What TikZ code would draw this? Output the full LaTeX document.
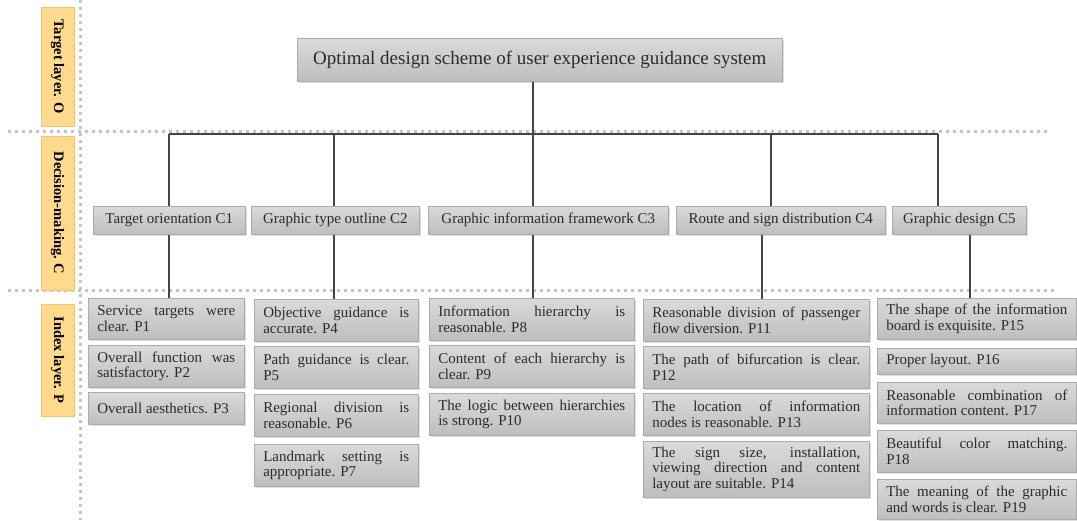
\documentclass[tikz,border=0pt]{standalone}
\usepackage{fontspec}
\setmainfont{Liberation Serif}
\usepackage{xcolor}
\usepackage{tikz}
\usetikzlibrary{calc,positioning,shadows}
\definecolor{UXBoxTop}{HTML}{DADADA}
\definecolor{UXBoxBottom}{HTML}{BEBEBE}
\definecolor{UXBoxLine}{HTML}{ABABAB}
\definecolor{UXText}{HTML}{2B2B2B}
\definecolor{UXLayer}{HTML}{FFD98E}
\definecolor{UXLayerLine}{HTML}{F2C66C}
\definecolor{UXDots}{HTML}{C4C4C4}
\definecolor{UXLink}{HTML}{454545}
\tolerance=10000
\hbadness=10000
\hyphenpenalty=10000

\tikzset{
  uxbox/.style={rectangle, anchor=north west, top color=UXBoxTop, bottom color=UXBoxBottom,
    draw=UXBoxLine, line width=0.6pt, text=UXText, inner xsep=9pt, inner ysep=2pt,
    drop shadow={shadow xshift=1.2pt, shadow yshift=-1.2pt, opacity=0.25}},
  cbox/.style={uxbox, align=center, minimum height=28pt, font=\fontsize{15}{16}\selectfont},
  pbox/.style={uxbox, text width=#1, align=justify, font=\fontsize{15}{15.6}\selectfont},
  layerbox/.style={rectangle, fill=UXLayer, draw=UXLayerLine, line width=0.5pt, rotate=-90,
    minimum height=33pt, inner sep=0pt, font=\bfseries\fontsize{14.5}{16}\selectfont},
  dots/.style={UXDots, line width=3pt, dash pattern=on 3pt off 4pt},
  link/.style={UXLink, line width=1.4pt}
}

\begin{document}
\begin{tikzpicture}[x=1pt, y=-1pt]
  \useasboundingbox (0,0) rectangle (1077,520);

  \draw[dots] (80,0) -- (80,520);
  \draw[dots] (8,131) -- (1048,131);
  \draw[dots] (8,290) -- (1058,290);

  \node[layerbox, minimum width=119pt] (Lo) at (57.5,66.5) {Target layer. O};
  \node[layerbox, minimum width=154pt] (Lc) at (57.5,213) {Decision-making. C};
  \node[layerbox, minimum width=112pt] (Lp) at (57.5,360) {Index layer. P};

  \node[uxbox, minimum width=485pt, minimum height=43pt, font=\fontsize{19}{21}\selectfont]
    (top) at (297,38) {Optimal design scheme of user experience guidance system};

  \node[cbox, minimum width=152pt] (C1) at (93,206) {Target orientation C1};
  \node[cbox, minimum width=168pt] (C2) at (251,206) {Graphic type outline C2};
  \node[cbox, minimum width=240pt] (C3) at (428,206) {Graphic information framework C3};
  \node[cbox, minimum width=209pt] (C4) at (676,206) {Route and sign distribution C4};
  \node[cbox, minimum width=134pt] (C5) at (892,206) {Graphic design C5};

  \node[pbox=138pt, minimum height=41pt] (P1) at (88,298) {Service targets were\linebreak clear. P1};
  \node[pbox=138pt, minimum height=42pt] (P2) at (88,345) {Overall function was\linebreak satisfactory. P2};
  \node[pbox=138pt, minimum height=32pt] (P3) at (88,392) {Overall aesthetics. P3};

  \node[pbox=146pt, minimum height=42pt] (P4) at (254,299) {Objective guidance is\linebreak accurate. P4};
  \node[pbox=146pt, minimum height=42pt] (P5) at (254,346) {Path guidance is clear.\linebreak P5};
  \node[pbox=146pt, minimum height=42pt] (P6) at (254,394) {Regional division is\linebreak reasonable. P6};
  \node[pbox=146pt, minimum height=42pt] (P7) at (254,444) {Landmark setting is\linebreak appropriate. P7};

  \node[pbox=187pt, minimum height=42pt] (P8) at (429,298) {Information hierarchy is\linebreak reasonable. P8};
  \node[pbox=187pt, minimum height=42pt] (P9) at (429,345) {Content of each hierarchy is\linebreak clear. P9};
  \node[pbox=187pt, minimum height=42pt] (P10) at (429,393) {The logic between hierarchies\linebreak is strong. P10};

  \node[pbox=208pt, minimum height=42pt] (P11) at (643,299) {Reasonable division of passenger\linebreak flow diversion. P11};
  \node[pbox=208pt, minimum height=42pt] (P12) at (643,346) {The path of bifurcation is clear.\linebreak P12};
  \node[pbox=208pt, minimum height=42pt] (P13) at (643,393) {The location of information\linebreak nodes is reasonable. P13};
  \node[pbox=208pt, minimum height=56pt] (P14) at (643,441) {The sign size, installation,\linebreak viewing direction and content\linebreak layout are suitable. P14};

  \node[pbox=181pt, minimum height=41pt] (P15) at (877,298) {The shape of the information\linebreak board is exquisite. P15};
  \node[pbox=181pt, minimum height=26pt] (P16) at (877,348) {Proper layout. P16};
  \node[pbox=181pt, minimum height=41pt] (P17) at (877,382) {Reasonable combination of\linebreak information content. P17};
  \node[pbox=181pt, minimum height=42pt] (P18) at (877,430) {Beautiful color matching.\linebreak P18};
  \node[pbox=181pt, minimum height=40pt] (P19) at (877,479) {The meaning of the graphic\linebreak and words is clear. P19};

  \coordinate (b1) at (169,134);
  \coordinate (b2) at (334,134);
  \coordinate (b3) at (533,134);
  \coordinate (b4) at (771,134);
  \coordinate (b5) at (938,134);
  \coordinate (d1) at (169,260);
  \coordinate (d2) at (334,260);
  \coordinate (d3) at (533,260);
  \coordinate (d4) at (762,260);
  \coordinate (d5) at (970,260);

  \draw[link] (top.south -| b3) -- (b3);
  \draw[link] (b1) -- (b5);
  \foreach \i in {1,...,5}
    \draw[link] (b\i) -- (b\i |- C\i.north);
  \foreach \i/\p in {1/1,2/4,3/8,4/11,5/15}
    \draw[link] (d\i |- C\i.south) -- (d\i |- P\p.north);
\end{tikzpicture}
\end{document}
